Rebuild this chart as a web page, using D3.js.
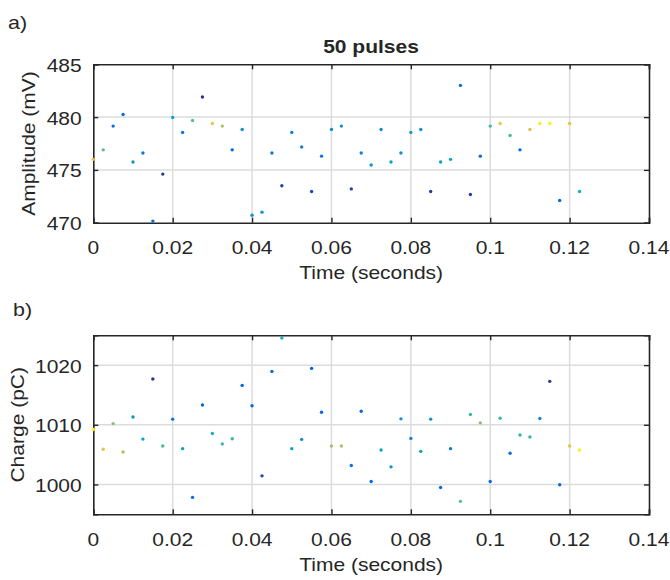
<!DOCTYPE html>
<html>
<head>
<meta charset="utf-8">
<script src="https://cdn.jsdelivr.net/npm/d3@7"></script>
<style>
  html, body { margin: 0; padding: 0; background: #ffffff; }
  svg { display: block; }
  text { font-family: "Liberation Sans", Arial, Helvetica, sans-serif; fill: #262626; }
</style>
</head>
<body>
<svg id="chart" width="670" height="580"></svg>
<script>
// ---------------- DATA ----------------
const time = [0, 0.0025, 0.005, 0.0075, 0.01, 0.0125, 0.015, 0.0175, 0.02, 0.0225,
  0.025, 0.0275, 0.03, 0.0325, 0.035, 0.0375, 0.04, 0.0425, 0.045, 0.0475,
  0.05, 0.0525, 0.055, 0.0575, 0.06, 0.0625, 0.065, 0.0675, 0.07, 0.0725,
  0.075, 0.0775, 0.08, 0.0825, 0.085, 0.0875, 0.09, 0.0925, 0.095, 0.0975,
  0.1, 0.1025, 0.105, 0.1075, 0.11, 0.1125, 0.115, 0.1175, 0.12, 0.1225];

const amplitude = [476.0, 476.9, 479.15, 480.25, 475.75, 476.6, 470.15, 474.6, 479.96, 478.55,
  479.68, 481.9, 479.4, 479.15, 476.9, 478.83, 470.7, 471.0, 476.6, 473.5,
  478.55, 477.17, 472.95, 476.3, 478.83, 479.15, 473.2, 476.6, 475.47, 478.83,
  475.75, 476.6, 478.55, 478.83, 472.95, 475.75, 476.0, 483.0, 472.67, 476.3,
  479.15, 479.4, 478.26, 476.9, 478.83, 479.4, 479.4, 472.1, 479.4, 472.95];

const charge = [1009.2, 1005.9, 1010.2, 1005.45, 1011.3, 1007.6, 1017.67, 1006.45, 1010.95, 1006.0,
  997.83, 1013.33, 1008.55, 1006.8, 1007.67, 1016.6, 1013.2, 1001.44, 1018.95, 1024.56,
  1006.0, 1007.55, 1019.45, 1012.1, 1006.45, 1006.45, 1003.17, 1012.28, 1000.5, 1005.78,
  1002.95, 1011.0, 1007.72, 1005.55, 1010.95, 999.5, 1006.0, 997.17, 1011.72, 1010.33,
  1000.5, 1011.1, 1005.22, 1008.28, 1007.95, 1011.05, 1017.28, 999.95, 1006.45, 1005.78];

// colour value (0..1 along the parula colormap) of each marker
const amplitudeColor = [0.80, 0.55, 0.17, 0.17, 0.30, 0.20, 0.15, 0.02, 0.38, 0.20,
  0.55, 0.02, 0.80, 0.68, 0.13, 0.28, 0.30, 0.30, 0.20, 0.06,
  0.22, 0.24, 0.07, 0.20, 0.28, 0.28, 0.05, 0.24, 0.30, 0.27,
  0.36, 0.28, 0.33, 0.28, 0.03, 0.36, 0.36, 0.17, 0.03, 0.15,
  0.50, 0.80, 0.52, 0.15, 0.78, 0.97, 0.97, 0.15, 0.80, 0.42];

const chargeColor = [0.97, 0.80, 0.62, 0.68, 0.30, 0.36, 0.02, 0.52, 0.20, 0.36,
  0.17, 0.15, 0.42, 0.50, 0.50, 0.13, 0.15, 0.05, 0.15, 0.42,
  0.35, 0.30, 0.13, 0.15, 0.68, 0.68, 0.17, 0.15, 0.15, 0.35,
  0.30, 0.30, 0.24, 0.35, 0.30, 0.15, 0.20, 0.55, 0.50, 0.62,
  0.15, 0.50, 0.17, 0.48, 0.48, 0.25, 0.03, 0.15, 0.80, 0.97];

const xTicks = [0, 0.02, 0.04, 0.06, 0.08, 0.1, 0.12, 0.14];
const xTickLabels = ["0", "0.02", "0.04", "0.06", "0.08", "0.1", "0.12", "0.14"];
const ampTicks = [470, 475, 480, 485];
const ampTickLabels = ["470", "475", "480", "485"];
const chargeTicks = [1000, 1010, 1020];
const chargeTickLabels = ["1000", "1010", "1020"];

const parulaStops = ["#352a87", "#0363e1", "#1485d4", "#06a7c6", "#38b99e",
  "#92bf73", "#d9ba56", "#fcce2e", "#f9fb0e"];

// ---------------- DRAW ----------------
const svg = d3.select("#chart");
svg.append("rect").attr("width", 670).attr("height", 580).attr("fill", "#fff");

const color = d3.scaleLinear()
  .domain(parulaStops.map((_, i) => i / (parulaStops.length - 1)))
  .range(parulaStops)
  .interpolate(d3.interpolateRgb);

const FS = 18.6, SX = 1.13, INK = "#262626";

function label(g, x, y, txt, opts = {}) {
  const rot = opts.rotate ? ` rotate(${opts.rotate})` : "";
  return g.append("text")
    .attr("transform", `translate(${x},${y})${rot} scale(${SX},1)`)
    .attr("text-anchor", opts.anchor || "middle")
    .style("font-size", (opts.size || FS) + "px")
    .style("font-weight", opts.bold ? "bold" : "normal")
    .text(txt);
}

function panel(cfg) {
  const x = d3.scaleLinear().domain([0, 0.14]).range([93.3, 649]);
  const y = d3.scaleLinear().domain(cfg.yDomain).range([cfg.bottom, cfg.top]);
  const g = svg.append("g");
  const [x0, x1] = x.range();
  const [y0, y1] = [cfg.top, cfg.bottom];

  // grid lines
  g.append("g").selectAll("line.vx").data(xTicks.filter(t => t > 0 && t < 0.14))
    .join("line")
    .attr("x1", d => x(d)).attr("x2", d => x(d))
    .attr("y1", y0).attr("y2", y1)
    .attr("stroke", "#dcdcdc").attr("stroke-width", 1.5);
  g.append("g").selectAll("line.hy").data(cfg.yTicks.filter(t => y(t) > y0 + 1 && y(t) < y1 - 1))
    .join("line")
    .attr("x1", x0).attr("x2", x1)
    .attr("y1", d => y(d)).attr("y2", d => y(d))
    .attr("stroke", "#dcdcdc").attr("stroke-width", 1.5);

  // axes (inward ticks) on all four sides
  const tick = 5;
  g.append("g").attr("transform", `translate(0,${y1})`)
    .call(d3.axisBottom(x).tickValues(xTicks).tickSize(-tick).tickFormat(""));
  g.append("g").attr("transform", `translate(0,${y0})`)
    .call(d3.axisTop(x).tickValues(xTicks).tickSize(-tick).tickFormat(""));
  g.append("g").attr("transform", `translate(${x0},0)`)
    .call(d3.axisLeft(y).tickValues(cfg.yTicks).tickSize(-tick).tickFormat(""));
  g.append("g").attr("transform", `translate(${x1},0)`)
    .call(d3.axisRight(y).tickValues(cfg.yTicks).tickSize(-tick).tickFormat(""));
  g.selectAll(".domain").attr("stroke", INK).attr("stroke-width", 1.6);
  g.selectAll(".tick line").attr("stroke", INK).attr("stroke-width", 1.4);

  // tick labels
  xTicks.forEach((t, i) => label(g, x(t), y1 + 31.3, xTickLabels[i]));
  cfg.yTicks.forEach((t, i) => label(g, 81.7, y(t) + 7.5, cfg.yTickLabels[i], { anchor: "end" }));

  // axis titles
  label(g, (x0 + x1) / 2, y1 + 56.5, "Time (seconds)");
  label(g, cfg.yLabelX, (y0 + y1) / 2, cfg.yLabel, { rotate: -90 });

  // markers
  g.append("g").selectAll("circle").data(time)
    .join("circle")
    .attr("cx", d => x(d))
    .attr("cy", (d, i) => y(cfg.values[i]))
    .attr("r", 1.7)
    .attr("fill", (d, i) => color(cfg.colors[i]));
  return g;
}

panel({ top: 64.3, bottom: 222.7, yDomain: [470, 485], yTicks: ampTicks, yTickLabels: ampTickLabels,
  values: amplitude, colors: amplitudeColor, yLabel: "Amplitude (mV)", yLabelX: 35 });
panel({ top: 335.3, bottom: 514.3, yDomain: [995, 1025], yTicks: chargeTicks, yTickLabels: chargeTickLabels,
  values: charge, colors: chargeColor, yLabel: "Charge (pC)", yLabelX: 23.5 });

label(svg, 371, 53, "50 pulses", { bold: true });
label(svg, 8, 29, "a)", { anchor: "start", size: 19 });
label(svg, 13, 316, "b)", { anchor: "start", size: 19 });
</script>
</body>
</html>
